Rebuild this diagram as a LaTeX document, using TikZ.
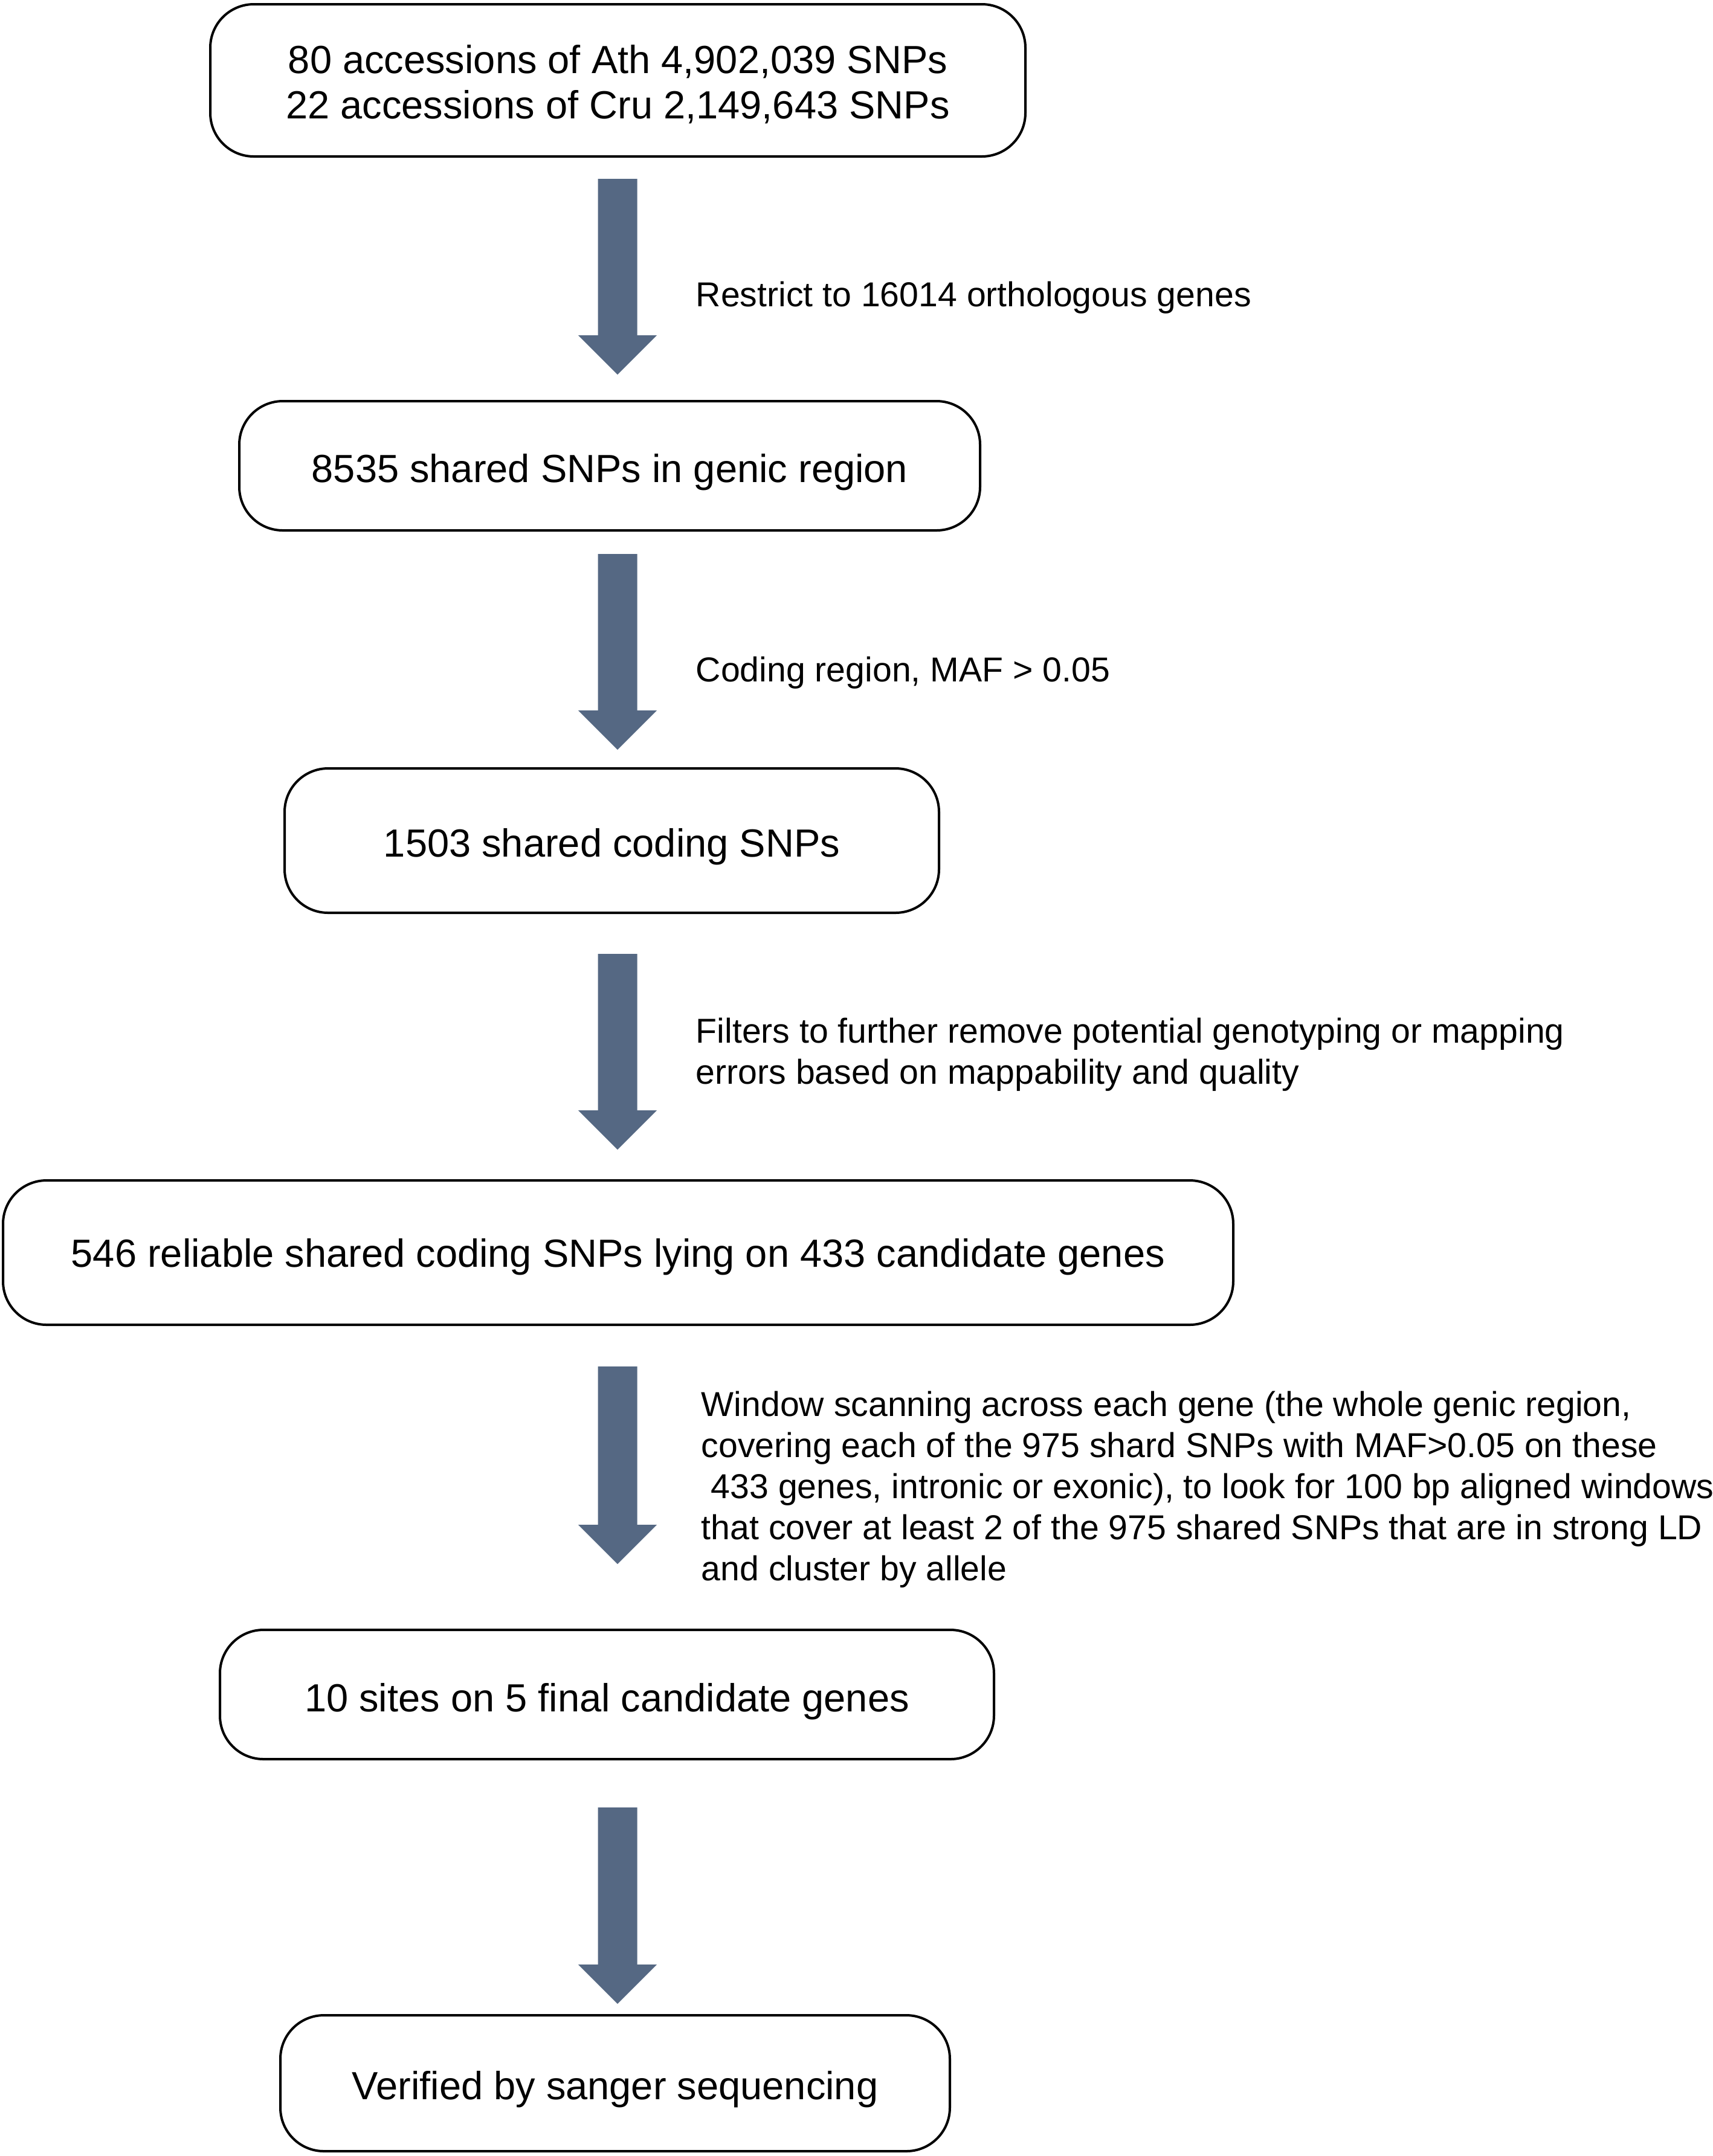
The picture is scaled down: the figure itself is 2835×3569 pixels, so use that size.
\documentclass[tikz,border=0pt]{standalone}
\usepackage{fontspec}
\setmainfont{Liberation Sans}
\definecolor{arrowc}{RGB}{85,104,131}
\newcommand{\dn}[2][2.6pt]{\raisebox{-#1}[\height][\depth]{#2}}
\tikzset{
  box/.style={draw=black, line width=1pt, rounded corners=18pt, fill=white, inner sep=0pt,
    align=center, font=\fontsize{16.25pt}{18.8pt}\selectfont},
  lbl/.style={anchor=west, inner sep=0pt, align=left, font=\fontsize{14.3pt}{17pt}\selectfont},
}
\newcommand{\blockarrow}[2]{%
  \fill[arrowc] ($(#1)+(-8.125pt,0)$) -- ($(#1)+(8.125pt,0)$) -- ($(#2)+(8.125pt,16.25pt)$)
    -- ($(#2)+(16.25pt,16.25pt)$) -- (#2) -- ($(#2)+(-16.25pt,16.25pt)$)
    -- ($(#2)+(-8.125pt,16.25pt)$) -- cycle;}
\usetikzlibrary{calc}
\begin{document}
\begin{tikzpicture}[x=0.25pt,y=-0.25pt]
\useasboundingbox (0,0) rectangle (2835,3569);
\node[box, minimum width=337.25pt, minimum height=63pt] (b1) at (1022.5,133)
  {\dn[1.7pt]{80 accessions of Ath 4,902,039 SNPs}\\\dn[1.7pt]{22 accessions of Cru 2,149,643 SNPs}};
\node[box, minimum width=306.5pt, minimum height=53.5pt] (b2) at (1009,771)
  {\dn{8535 shared SNPs in genic region}};
\node[box, minimum width=270.75pt, minimum height=59.75pt] (b3) at (1012.5,1391.5)
  {\dn{1503 shared coding SNPs}};
\node[box, minimum width=509pt, minimum height=59.75pt] (b4) at (1023,2073.5)
  {\dn[1.8pt]{546 reliable shared coding SNPs lying on 433 candidate genes}};
\node[box, minimum width=320.25pt, minimum height=53.5pt] (b5) at (1004.5,2805)
  {\dn[3pt]{10 sites on 5 final candidate genes}};
\node[box, minimum width=277pt, minimum height=56.25pt] (b6) at (1018,3448.5)
  {\dn{Verified by sanger sequencing}};

\coordinate (a1s) at (1022,296);  \coordinate (a1e) at (1022,620);
\coordinate (a2s) at (1022,917);  \coordinate (a2e) at (1022,1241);
\coordinate (a3s) at (1022,1579); \coordinate (a3e) at (1022,1903);
\coordinate (a4s) at (1022,2262); \coordinate (a4e) at (1022,2589);
\coordinate (a5s) at (1022,2992); \coordinate (a5e) at (1022,3317);
\blockarrow{a1s}{a1e}
\blockarrow{a2s}{a2e}
\blockarrow{a3s}{a3e}
\blockarrow{a4s}{a4e}
\blockarrow{a5s}{a5e}

\node[lbl] (l1) at (1151,493) {Restrict to 16014 orthologous genes};
\node[lbl] (l2) at (1151,1114) {Coding region, MAF > 0.05};
\node[lbl] (l3) at (1151,1746) {Filters to further remove potential genotyping or mapping\\errors based on mappability and quality};
\node[lbl] (l4) at (1160,2466) {Window scanning across each gene (the whole genic region,\\covering each of the 975 shard SNPs with MAF>0.05 on these\\\hspace*{0.28em}433 genes, intronic or exonic), to look for 100 bp aligned windows\\that cover at least 2 of the 975 shared SNPs that are in strong LD\\and cluster by allele};
\end{tikzpicture}
\end{document}
